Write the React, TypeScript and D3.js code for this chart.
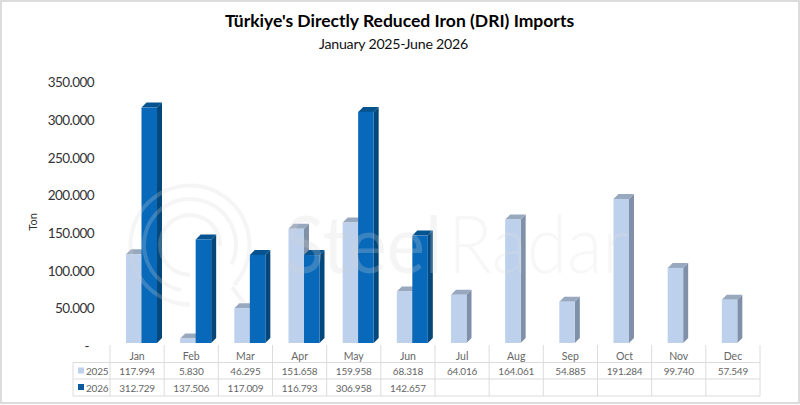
import * as d3 from "d3";
import { useRef, useEffect } from "react";

const months = ["Jan", "Feb", "Mar", "Apr", "May", "Jun", "Jul", "Aug", "Sep", "Oct", "Nov", "Dec"];
const seriesNames = ["2025", "2026"];
const values2025 = [117994, 5830, 46295, 151658, 159958, 68318, 64016, 164061, 54885, 191284, 99740, 57549];
const values2026: (number | null)[] = [312729, 137506, 117009, 116793, 306958, 142657, null, null, null, null, null, null];
const yTicks = [0, 50000, 100000, 150000, 200000, 250000, 300000, 350000];

const colors: Record<string, { front: string; side: string; top: string }> = {
  "2025": { front: "#BDD0EC", side: "#7F90A8", top: "#98A8BE" },
  "2026": { front: "#0868BA", side: "#04477A", top: "#055490" },
};

const fontFamily = "Lato, 'Open Sans', sans-serif";
const fmt = (v: number | null) => (v == null ? "" : d3.format(",")(v).replace(/,/g, "."));

export default function App() {
  const svgRef = useRef<SVGSVGElement | null>(null);

  useEffect(() => {
    if (!svgRef.current) return;
    const svg = d3.select(svgRef.current);
    svg.selectAll("*").remove();

    const depth = 5;
    const xScale = d3.scaleBand<string>().domain(months).range([110, 760]);
    const xInner = d3.scaleBand<string>().domain(seriesNames).range([16, 47]);
    const yScale = d3.scaleLinear().domain([0, 350000]).range([343, 79.5]);

    // marco exterior
    svg.append("rect").attr("x", 1).attr("y", 1).attr("width", 798).attr("height", 402)
      .attr("fill", "white").attr("stroke", "#dcdcdc").attr("stroke-width", 2);

    // titulos
    svg.append("text").attr("x", 399.5).attr("y", 27).attr("text-anchor", "middle")
      .attr("font-size", 17.5).attr("font-weight", 700).attr("fill", "#000")
      .text("Türkiye's Directly Reduced Iron (DRI) Imports");
    svg.append("text").attr("x", 393.5).attr("y", 49).attr("text-anchor", "middle")
      .attr("font-size", 14.2).attr("letter-spacing", -0.25).attr("fill", "#111")
      .text("January 2025-June 2026");

    // eje Y
    const yAxis = svg.append("g").attr("transform", "translate(94,3)")
      .call(d3.axisLeft(yScale).tickValues(yTicks).tickSize(0).tickPadding(0)
        .tickFormat((d) => (+d === 0 ? "-" : fmt(+d))));
    yAxis.select(".domain").remove();
    yAxis.selectAll("text").attr("font-size", 13.5).attr("letter-spacing", -0.55)
      .attr("font-family", fontFamily).attr("fill", "#333");
    yAxis.selectAll(".tick").filter((d) => +(d as number) === 0).select("text").attr("x", -5);

    svg.append("text").attr("transform", "translate(37,222) rotate(-90)").attr("text-anchor", "middle")
      .attr("font-size", 11).attr("fill", "#333").text("Ton");

    // barras 3D
    const rows = [
      { name: "2025", values: values2025 as (number | null)[] },
      { name: "2026", values: values2026 },
    ];
    const base = yScale(0);
    rows.forEach((row) => {
      const c = colors[row.name];
      const bars = svg.append("g").selectAll("g")
        .data(months.map((m, i) => ({ month: m, value: row.values[i] })).filter((d) => d.value != null))
        .join("g");
      const x0 = (d: { month: string }) => xScale(d.month)! + xInner(row.name)!;
      const x1 = (d: { month: string }) => x0(d) + xInner.bandwidth();
      bars.append("path").attr("fill", c.side).attr("d", (d) => {
        const y = yScale(d.value!);
        return `M${x1(d)},${y}L${x1(d) + depth},${y - depth}V${base - depth}L${x1(d)},${base}Z`;
      });
      bars.append("path").attr("fill", c.top).attr("d", (d) => {
        const y = yScale(d.value!);
        return `M${x0(d)},${y}L${x0(d) + depth},${y - depth}H${x1(d) + depth}L${x1(d)},${y}Z`;
      });
      bars.append("rect").attr("fill", c.front)
        .attr("x", (d) => x0(d))
        .attr("y", (d) => yScale(d.value!))
        .attr("width", xInner.bandwidth())
        .attr("height", (d) => base - yScale(d.value!));
    });

    // marca de agua
    const wmColor = "#d8d8d8";
    const wm = svg.append("g").attr("opacity", 0.24).attr("fill", wmColor);
    const ring = d3.arc();
    const rings = [
      { innerRadius: 57.5, outerRadius: 61.5, startAngle: Math.PI, endAngle: 2 * Math.PI + 2.3 },
      { innerRadius: 44, outerRadius: 48, startAngle: Math.PI + 0.2, endAngle: 2 * Math.PI + 2.0 },
      { innerRadius: 28, outerRadius: 32, startAngle: Math.PI, endAngle: 2 * Math.PI + 1.6 },
    ];
    wm.selectAll("path").data(rings).join("path")
      .attr("transform", "translate(190,245)")
      .attr("d", (d) => ring(d as any));
    wm.append("line").attr("x1", 232).attr("y1", 287).attr("x2", 244).attr("y2", 303)
      .attr("stroke", wmColor).attr("stroke-width", 4);
    wm.append("text").attr("x", 285).attr("y", 273).attr("font-size", 80)
      .attr("textLength", 157).attr("lengthAdjust", "spacingAndGlyphs").text("Steel");
    wm.append("text").attr("x", 448).attr("y", 273).attr("font-size", 80).attr("font-weight", 300)
      .attr("fill", "#e2e2e2").attr("textLength", 180).attr("lengthAdjust", "spacingAndGlyphs").text("Radar");

    // tabla de datos
    const table = svg.append("g");
    const rowLines = [362.5, 379, 396];
    const gridColor = "#dcdcdc";
    table.selectAll(".hline").data(rowLines).join("line").attr("class", "hline")
      .attr("x1", 73).attr("x2", 760).attr("y1", (d) => d).attr("y2", (d) => d)
      .attr("stroke", gridColor);
    table.selectAll(".vline").data([...months, "end"]).join("line").attr("class", "vline")
      .attr("x1", (d, i) => 110 + i * xScale.bandwidth())
      .attr("x2", (d, i) => 110 + i * xScale.bandwidth())
      .attr("y1", 345).attr("y2", 396).attr("stroke", gridColor);
    table.append("line").attr("x1", 73).attr("x2", 73).attr("y1", 362.5).attr("y2", 396).attr("stroke", gridColor);

    const cx = (m: string) => xScale(m)! + xScale.bandwidth() / 2;
    table.selectAll(".month").data(months).join("text").attr("class", "month")
      .attr("x", cx).attr("y", 360).attr("text-anchor", "middle")
      .attr("font-size", 10.5).attr("fill", "#666").text((d) => d);

    rows.forEach((row, r) => {
      const y = 375 + r * 16.5;
      table.append("rect").attr("x", 78).attr("y", y - 7.5).attr("width", 6).attr("height", 6)
        .attr("fill", r === 0 ? colors[row.name].front : "#0A5C9E");
      table.append("text").attr("x", 86).attr("y", y).attr("font-size", 10).attr("letter-spacing", -0.2)
        .attr("fill", "#666").text(row.name);
      table.selectAll(`.cell${r}`).data(months).join("text").attr("class", `cell${r}`)
        .attr("x", cx).attr("y", y).attr("text-anchor", "middle")
        .attr("font-size", 10).attr("letter-spacing", -0.2).attr("fill", "#666")
        .text((_, i) => fmt(row.values[i]));
    });
  }, []);

  return (
    <svg
      ref={svgRef}
      width={800}
      height={405}
      style={{ position: "absolute", left: 0, top: 0, fontFamily }}
    ></svg>
  );
}
